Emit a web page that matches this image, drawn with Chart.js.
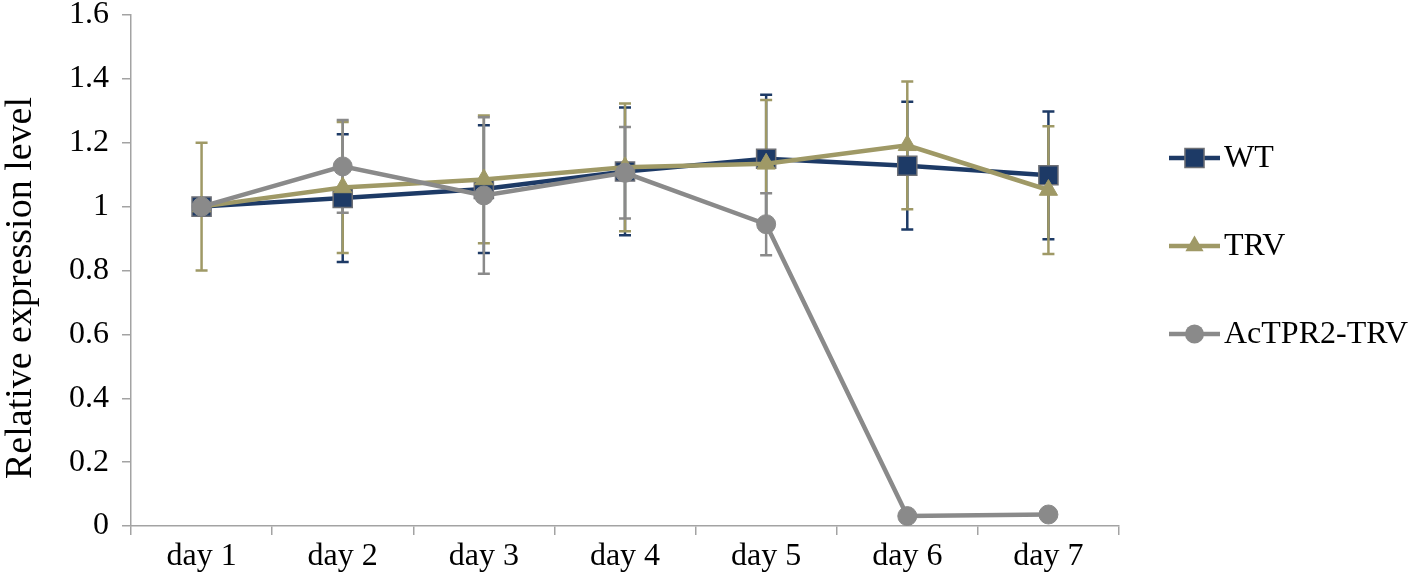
<!DOCTYPE html>
<html>
<head>
<meta charset="utf-8">
<script src="https://cdn.jsdelivr.net/npm/chart.js@4.4.0/dist/chart.umd.min.js"></script>
<style>
    html, body { margin: 0; padding: 0; background: #fff; }
    #wrap { width: 1418px; height: 587px; }
</style>
</head>
<body>
<div id="wrap"><canvas id="myChart"></canvas></div>
<script>
// Data
const days = ['day 1', 'day 2', 'day 3', 'day 4', 'day 5', 'day 6', 'day 7'];
const yTickLabels = ['0', '0.2', '0.4', '0.6', '0.8', '1', '1.2', '1.4', '1.6'];
const yTitle = 'Relative expression level';

const wt = [1.0, 1.027, 1.055, 1.11, 1.15, 1.128, 1.098];
const wtErr = [0, 0.2, 0.2, 0.2, 0.2, 0.2, 0.2];

const trv = [1.0, 1.06, 1.085, 1.123, 1.134, 1.192, 1.052];
const trvErr = [0.2, 0.205, 0.2, 0.2, 0.2, 0.2, 0.2];

const ac = [1.0, 1.126, 1.035, 1.106, 0.945, 0.031, 0.036];
const acErr = [0, 0.145, 0.245, 0.143, 0.097, 0, 0];

const serif = "'Liberation Serif', 'Times New Roman', serif";
const axisGray = '#a3a3a3';
const navy = '#1d3a66';
const olive = '#9f9966';
const gray = '#8a8a8a';

const errSets = [wtErr, trvErr, acErr];

// small marker helper, used by the legend
function marker(ctx, style, x, y, r, fill, stroke) {
    ctx.beginPath();
    if (style === 'rect') {
        const s = Math.SQRT1_2 * r;
        ctx.rect(x - s, y - s, 2 * s, 2 * s);
    } else if (style === 'triangle') {
        for (let k = 0; k < 3; k++) {
            const a = k * 2 * Math.PI / 3;
            const px = x + Math.sin(a) * r, py = y - Math.cos(a) * r;
            k ? ctx.lineTo(px, py) : ctx.moveTo(px, py);
        }
        ctx.closePath();
    } else {
        ctx.arc(x, y, r, 0, Math.PI * 2);
    }
    ctx.fillStyle = fill;
    ctx.fill();
    if (stroke) {
        ctx.lineWidth = 1.5;
        ctx.strokeStyle = stroke;
        ctx.stroke();
    }
}

// Error bars behind the lines
const errorBars = {
    id: 'errorBars',
    beforeDatasetsDraw(chart) {
        const { ctx, scales: { x, y } } = chart;
        ctx.save();
        ctx.lineWidth = 2.5;
        chart.data.datasets.forEach((ds, d) => {
            ctx.strokeStyle = ds.borderColor;
            ds.data.forEach((v, i) => {
                const e = errSets[d][i];
                if (!e) return;
                const px = x.getPixelForValue(i);
                const top = y.getPixelForValue(v + e);
                const bot = y.getPixelForValue(v - e);
                ctx.beginPath();
                ctx.moveTo(px, top); ctx.lineTo(px, bot);
                ctx.moveTo(px - 6, top); ctx.lineTo(px + 6, top);
                ctx.moveTo(px - 6, bot); ctx.lineTo(px + 6, bot);
                ctx.stroke();
            });
        });
        ctx.restore();
    }
};

// Y title, sits a bit below the middle of the plot like in the figure
const sideTitle = {
    id: 'sideTitle',
    afterDraw(chart) {
        const { ctx } = chart;
        ctx.save();
        ctx.translate(21, 288);
        ctx.rotate(-Math.PI / 2);
        ctx.fillStyle = '#000';
        ctx.font = '38px ' + serif;
        ctx.textAlign = 'center';
        ctx.textBaseline = 'middle';
        ctx.fillText(yTitle, 0, 0);
        ctx.restore();
    }
};

// Legend on the right: line with marker, then the name
const sideLegend = {
    id: 'sideLegend',
    afterDraw(chart) {
        const { ctx } = chart;
        const x0 = 1169, len = 51, rows = [158, 246, 334];
        ctx.save();
        chart.data.datasets.forEach((ds, d) => {
            const y = rows[d];
            ctx.strokeStyle = ds.borderColor;
            ctx.lineWidth = 4.5;
            ctx.beginPath();
            ctx.moveTo(x0, y); ctx.lineTo(x0 + len, y);
            ctx.stroke();
            marker(ctx, ds.pointStyle, x0 + len / 2, y, ds.pointRadius, ds.pointBackgroundColor,
                ds.pointStyle === 'rect' ? ds.pointBorderColor : null);
            ctx.fillStyle = '#000';
            ctx.font = '32px ' + serif;
            ctx.textBaseline = 'middle';
            ctx.textAlign = 'left';
            ctx.fillText(ds.label, x0 + len + 4, y + 1);
        });
        ctx.restore();
    }
};

const ctx = document.getElementById('myChart').getContext('2d');
const myChart = new Chart(ctx, {
    type: 'line',
    data: {
        labels: days,
        datasets: [{
            label: 'WT',
            data: wt,
            borderColor: navy,
            borderWidth: 4.5,
            pointStyle: 'rect',
            pointRadius: 13.5,
            pointBackgroundColor: navy,
            pointBorderColor: '#6d6f75',
            pointBorderWidth: 1.5,
            tension: 0,
            order: 3
        }, {
            label: 'TRV',
            data: trv,
            borderColor: olive,
            borderWidth: 4.5,
            pointStyle: 'triangle',
            pointRadius: 10.5,
            pointBackgroundColor: olive,
            pointBorderColor: olive,
            pointBorderWidth: 1,
            tension: 0,
            order: 2
        }, {
            label: 'AcTPR2-TRV',
            data: ac,
            borderColor: gray,
            borderWidth: 4.5,
            pointStyle: 'circle',
            pointRadius: 9.5,
            pointBackgroundColor: gray,
            pointBorderColor: gray,
            pointBorderWidth: 1,
            tension: 0,
            order: 1
        }]
    },
    options: {
        responsive: true,
        maintainAspectRatio: false,
        animation: false,
        layout: { padding: { top: 13, right: 299, left: 0, bottom: 0 } },
        plugins: {
            legend: { display: false },
            tooltip: { enabled: false }
        },
        scales: {
            x: {
                offset: true,
                grid: { offset: true, drawOnChartArea: false, drawTicks: true, tickLength: 9, color: axisGray, lineWidth: 1.5 },
                border: { color: axisGray, width: 1.5 },
                ticks: { color: '#000', font: { family: serif, size: 32 }, padding: 2, maxRotation: 0, autoSkip: false },
                afterFit(s) { s.height = 61; }
            },
            y: {
                min: 0,
                max: 1.6,
                grid: { drawOnChartArea: false, drawTicks: true, tickLength: 9, color: axisGray, lineWidth: 1.5 },
                border: { color: axisGray, width: 1.5 },
                ticks: {
                    stepSize: 0.2,
                    color: '#000',
                    padding: 13,
                    font: { family: serif, size: 32 },
                    callback: (v, i) => yTickLabels[i]
                },
                afterFit(s) {
                    s.width = 131;
                    s.paddingTop = 0;
                    s.paddingBottom = 0;
                }
            }
        }
    },
    plugins: [errorBars, sideTitle, sideLegend]
});
</script>
</body>
</html>
